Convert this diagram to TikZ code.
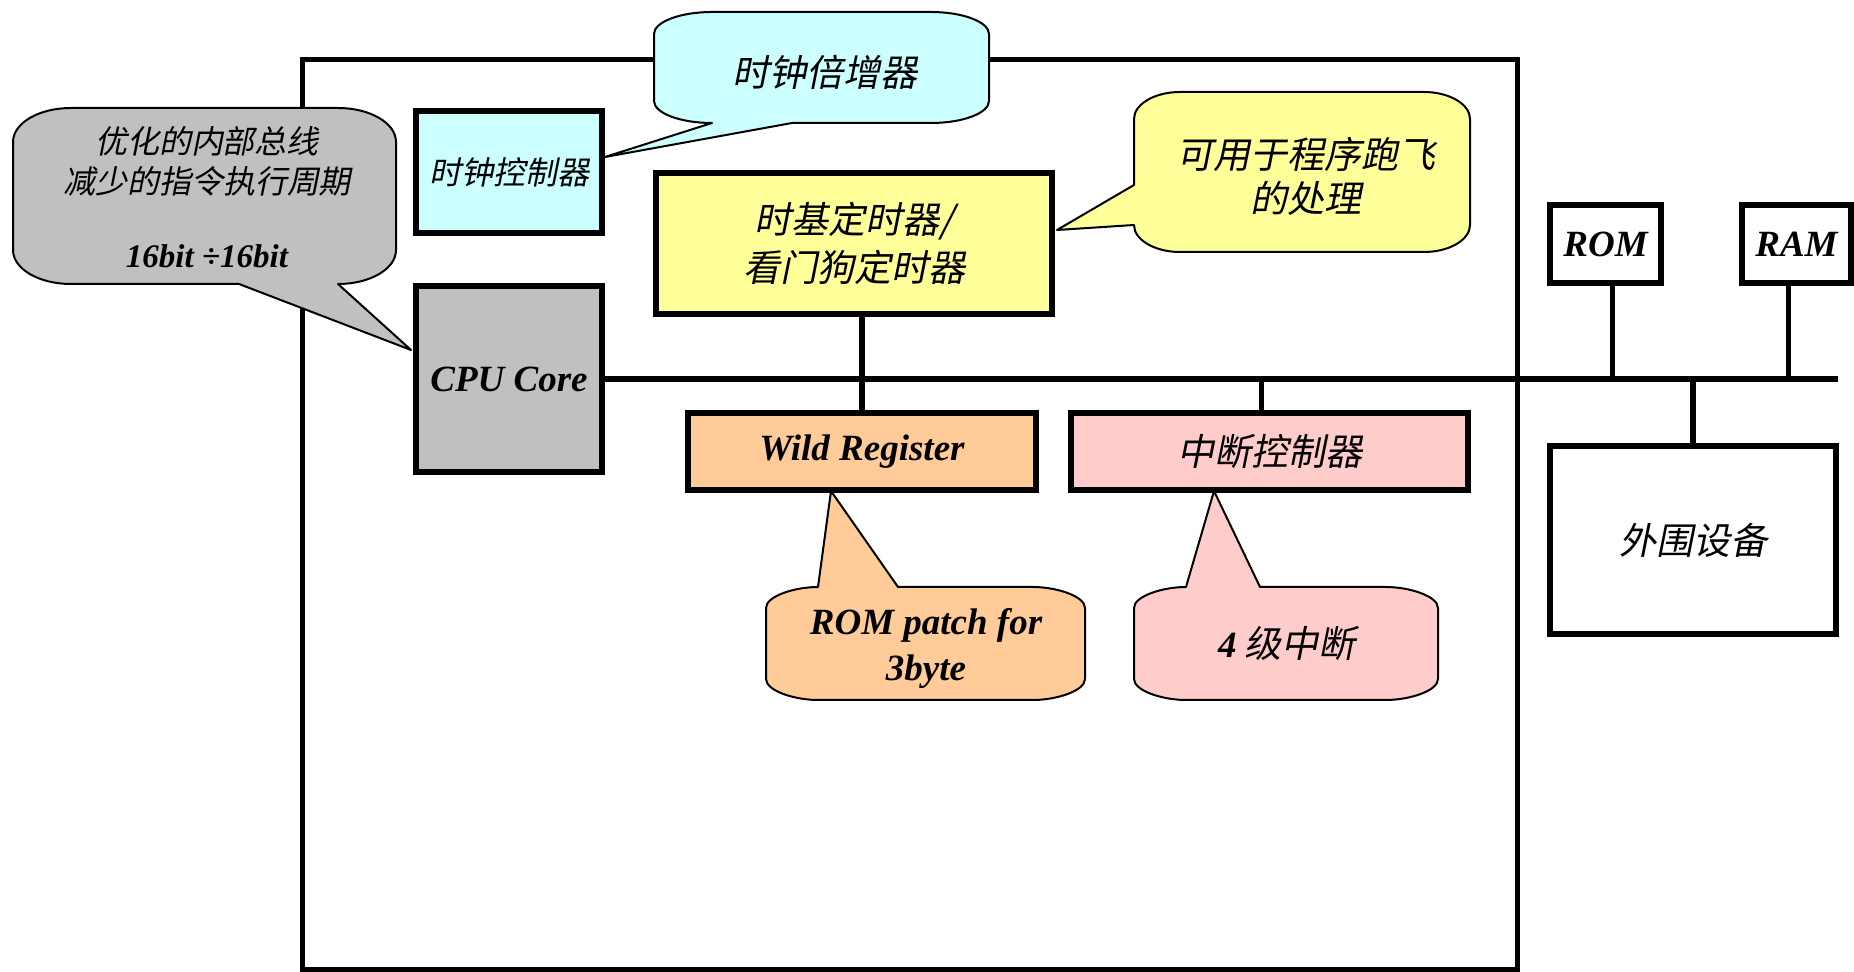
\documentclass[tikz,border=0pt]{standalone}
\usepackage{fontspec}
\setmainfont{Liberation Serif}
\newfontfamily\cjk{Noto Sans CJK SC}[FakeSlant=0.2]
\newcommand\engl{\rmfamily\bfseries\itshape}
\newcommand\setfs[2]{\fontsize{#1}{#2}\selectfont}
\definecolor{grayfill}{HTML}{C0C0C0}
\definecolor{cyanfill}{HTML}{CCFFFF}
\definecolor{yellowfill}{HTML}{FFFF99}
\definecolor{orangefill}{HTML}{FFCC99}
\definecolor{pinkfill}{HTML}{FFCCCC}
\begin{document}
\begin{tikzpicture}[x=0.5pt,y=-0.5pt,
  box/.style={draw, line width=3pt, inner sep=0pt, align=center},
  lnk/.style={line width=2.6pt},
  framestyle/.style={line width=2.5pt},
  callout/.style={draw, line width=1pt, line join=round},
  cjktext/.style={font=\cjk\setfs{18.5pt}{22pt}, align=center},
  entext/.style={font=\engl\setfs{18.5pt}{22pt}, align=center},
]
\useasboundingbox (0,0) rectangle (1854,972);
\fill[white] (0,0) rectangle (1854,972);
% chip frame
\draw[framestyle] (302,60) rectangle (1517,969.5);
% boxes
\node[box, fill=cyanfill, minimum width=93pt, minimum height=61pt, cjktext, font=\cjk\setfs{16pt}{20pt}] (clk) at (509,172) {时钟控制器};
\node[box, fill=grayfill, minimum width=93pt, minimum height=93pt, entext] (cpu) at (509,379) {\raisebox{-1pt}{CPU Core}};
\node[box, fill=yellowfill, minimum width=198pt, minimum height=70.5pt, cjktext, font=\cjk\setfs{18.5pt}{24pt}] (tb) at (854,243.5) {时基定时器/\\看门狗定时器};
\node[box, fill=orangefill, minimum width=174pt, minimum height=38.5pt, entext] (wild) at (862,451.5) {\raisebox{-1.5pt}{Wild Register}};
\node[box, fill=pinkfill, minimum width=198.5pt, minimum height=38.5pt, cjktext] (intc) at (1269.5,451.5) {中断控制器};
\node[box, fill=white, minimum width=55.5pt, minimum height=39pt, entext] (rom) at (1605.5,244) {ROM};
\node[box, fill=white, minimum width=54.5pt, minimum height=39pt, entext] (ram) at (1796.5,244) {RAM};
\node[box, fill=white, minimum width=143pt, minimum height=94pt, cjktext] (per) at (1693,540) {外围设备};
% bus
\coordinate (busend) at (1838,379);
\draw[lnk] (cpu.east) -- (busend);
\draw[lnk] (tb.south -| wild.north) -- (wild.north);
\coordinate (intcTop) at ([xshift=-4pt]intc.north);
\draw[lnk] (intcTop) -- (intcTop |- busend);
\coordinate (romB) at ([xshift=3.5pt]rom.south);
\draw[lnk] (romB) -- (romB |- busend);
\coordinate (ramB) at ([xshift=-4pt]ram.south);
\draw[lnk] (ramB) -- (ramB |- busend);
\draw[lnk] (per.north) -- (per.north |- busend);
% callouts
\draw[callout, fill=cyanfill] (712,12) -- (931,12) .. controls (963,12) and (989,22) .. (989,34) -- (989,101) .. controls (989,113) and (963,123) .. (931,123) -- (792,123) -- (605,157) -- (712,123) .. controls (680,123) and (654,113) .. (654,101) -- (654,34) .. controls (654,22) and (680,12) .. (712,12) -- cycle;
\draw[callout, fill=grayfill] (71,108) -- (338,108) .. controls (370,108) and (396,123) .. (396,142) -- (396,250) .. controls (396,269) and (370,284) .. (338,284) -- (411,350) -- (239,284) -- (71,284) .. controls (39,284) and (13,269) .. (13,250) -- (13,142) .. controls (13,123) and (39,108) .. (71,108) -- cycle;
\draw[callout, fill=yellowfill] (1180,92) -- (1424,92) .. controls (1449,92) and (1470,104) .. (1470,119) -- (1470,225) .. controls (1470,240) and (1449,252) .. (1424,252) -- (1180,252) .. controls (1155,252) and (1134,240) .. (1134,225) -- (1057,230) -- (1134,185) -- (1134,119) .. controls (1134,104) and (1155,92) .. (1180,92) -- cycle;
\draw[callout, fill=orangefill] (818,587) -- (831,491) -- (898,587) -- (1033,587) .. controls (1056,587) and (1085,596) .. (1085,608) -- (1085,679) .. controls (1085,691) and (1056,700) .. (1033,700) -- (818,700) .. controls (795,700) and (766,691) .. (766,679) -- (766,608) .. controls (766,596) and (795,587) .. (818,587) -- cycle;
\draw[callout, fill=pinkfill] (1186,587) -- (1214,491) -- (1260,587) -- (1386,587) .. controls (1409,587) and (1438,596) .. (1438,608) -- (1438,679) .. controls (1438,691) and (1409,700) .. (1386,700) -- (1186,700) .. controls (1163,700) and (1134,691) .. (1134,679) -- (1134,608) .. controls (1134,596) and (1163,587) .. (1186,587) -- cycle;
% callout texts
\node[cjktext, font=\cjk\setfs{16pt}{20pt}] (cbus) at (207,197) {优化的内部总线\\减少的指令执行周期\\[17pt]{\engl\setfs{16.5pt}{20pt}16bit ÷16bit}};
\node[cjktext] (cmul) at (825,72) {时钟倍增器};
\node[cjktext] (crun) at (1306,176) {可用于程序跑飞\\的处理};
\node[entext, font=\engl\setfs{18.5pt}{23pt}] (cpatch) at (926,648) {ROM patch for\\3byte};
\node[cjktext] (cint) at (1287,643) {{\engl 4} 级中断};
\end{tikzpicture}
\end{document}
